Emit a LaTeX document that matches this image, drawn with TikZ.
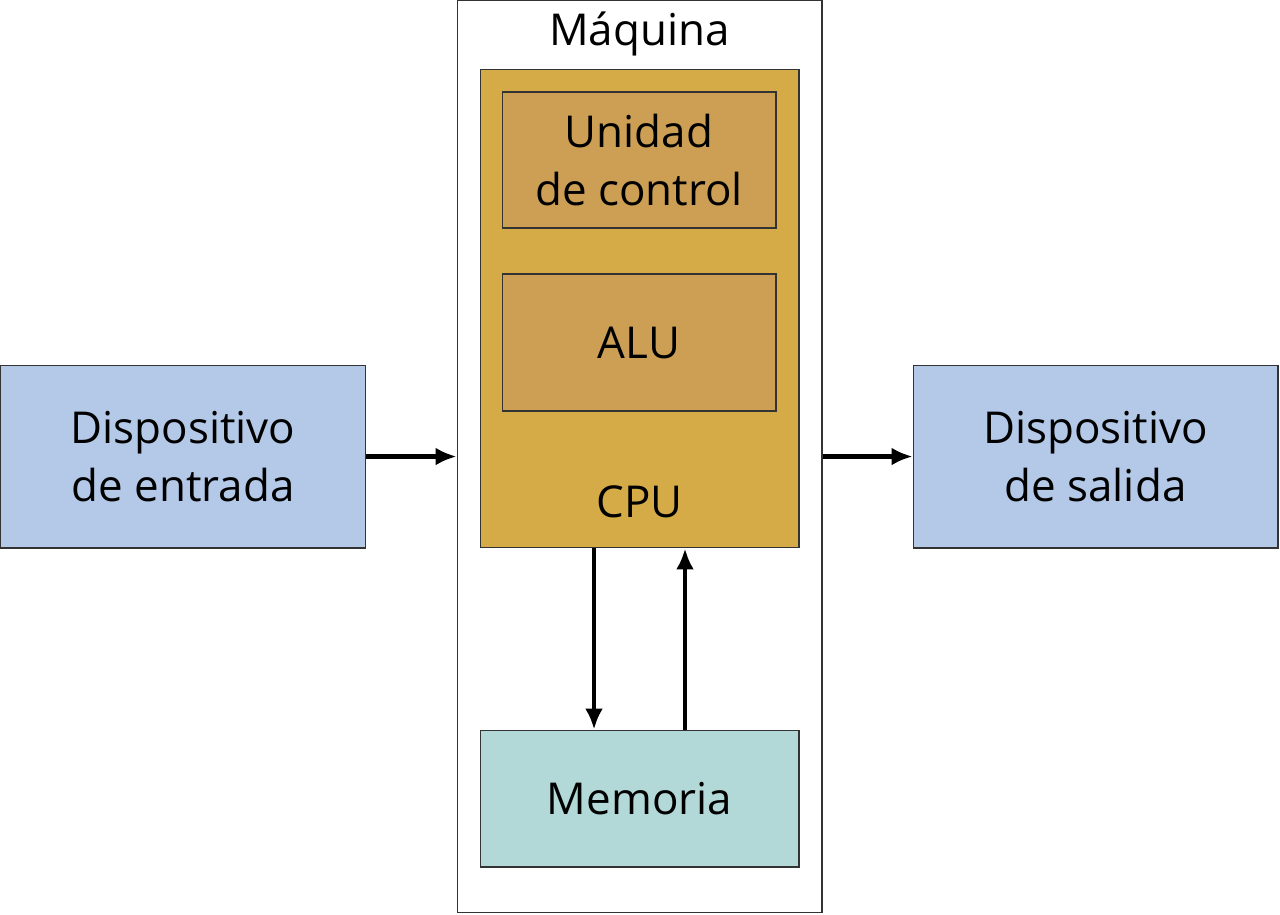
\documentclass[tikz,border=0pt]{standalone}
\usepackage{fontspec}
\setmainfont{Open Sans}
\usepackage{tikz}
\usetikzlibrary{positioning,arrows.meta}
\definecolor{devblue}{HTML}{B3C9E7}
\definecolor{cpugold}{HTML}{D5AB48}
\definecolor{unitbrown}{HTML}{CC9F55}
\definecolor{memteal}{HTML}{B2D8D8}
\tikzstyle{tbox}=[draw=black!80,line width=0.6pt,inner sep=0,align=center,font=\fontsize{25}{32.6}\selectfont]
\tikzstyle{tlabel}=[inner sep=0,font=\fontsize{25}{32.6}\selectfont]

\begin{document}
\begin{tikzpicture}[x=0.02cm,y=-0.02cm]

  \useasboundingbox (0,0) rectangle (1280,914);

  \node[tbox,fill=white,minimum width=7.3cm,minimum height=18.26cm] (maq) at (639.5,456.5) {};
  \node[tbox,fill=cpugold,minimum width=6.38cm,minimum height=9.58cm] (cpu) at (639.5,308.5) {};
  \node[tbox,fill=unitbrown,minimum width=5.48cm,minimum height=2.72cm] (uc) at (639,160) {Unidad\\de control};
  \node[tbox,fill=unitbrown,minimum width=5.48cm,minimum height=2.74cm] (alu) at (639,342.5) {ALU};
  \node[tbox,fill=memteal,minimum width=6.38cm,minimum height=2.74cm] (mem) at (639.5,798.5) {Memoria};
  \node[tbox,fill=devblue,minimum width=7.32cm,minimum height=3.66cm] (ent) at (183,456.5) {Dispositivo\\de entrada};
  \node[tbox,fill=devblue,minimum width=7.3cm,minimum height=3.66cm] (sal) at (1095.5,456.5) {Dispositivo\\de salida};

  \node[tlabel] (maqname) at (639.5,34) {Máquina};
  \node[tlabel] (cpuname) at (639.5,502) {CPU};

  \draw[style={-{Latex[length=0.42cm,width=0.36cm]},line width=2.3pt}] (ent) to (maq);
  \draw[style={-{Latex[length=0.42cm,width=0.36cm]},line width=2.3pt}] (maq) to (sal);
  \draw[style={-{Latex[length=0.42cm,width=0.36cm]},line width=2.3pt}] ([xshift=-0.91cm]cpu.south) to ([xshift=-0.91cm]mem.north);
  \draw[style={-{Latex[length=0.42cm,width=0.36cm]},line width=2.3pt}] ([xshift=0.91cm]mem.north) to ([xshift=0.91cm]cpu.south);

\end{tikzpicture}
\end{document}
